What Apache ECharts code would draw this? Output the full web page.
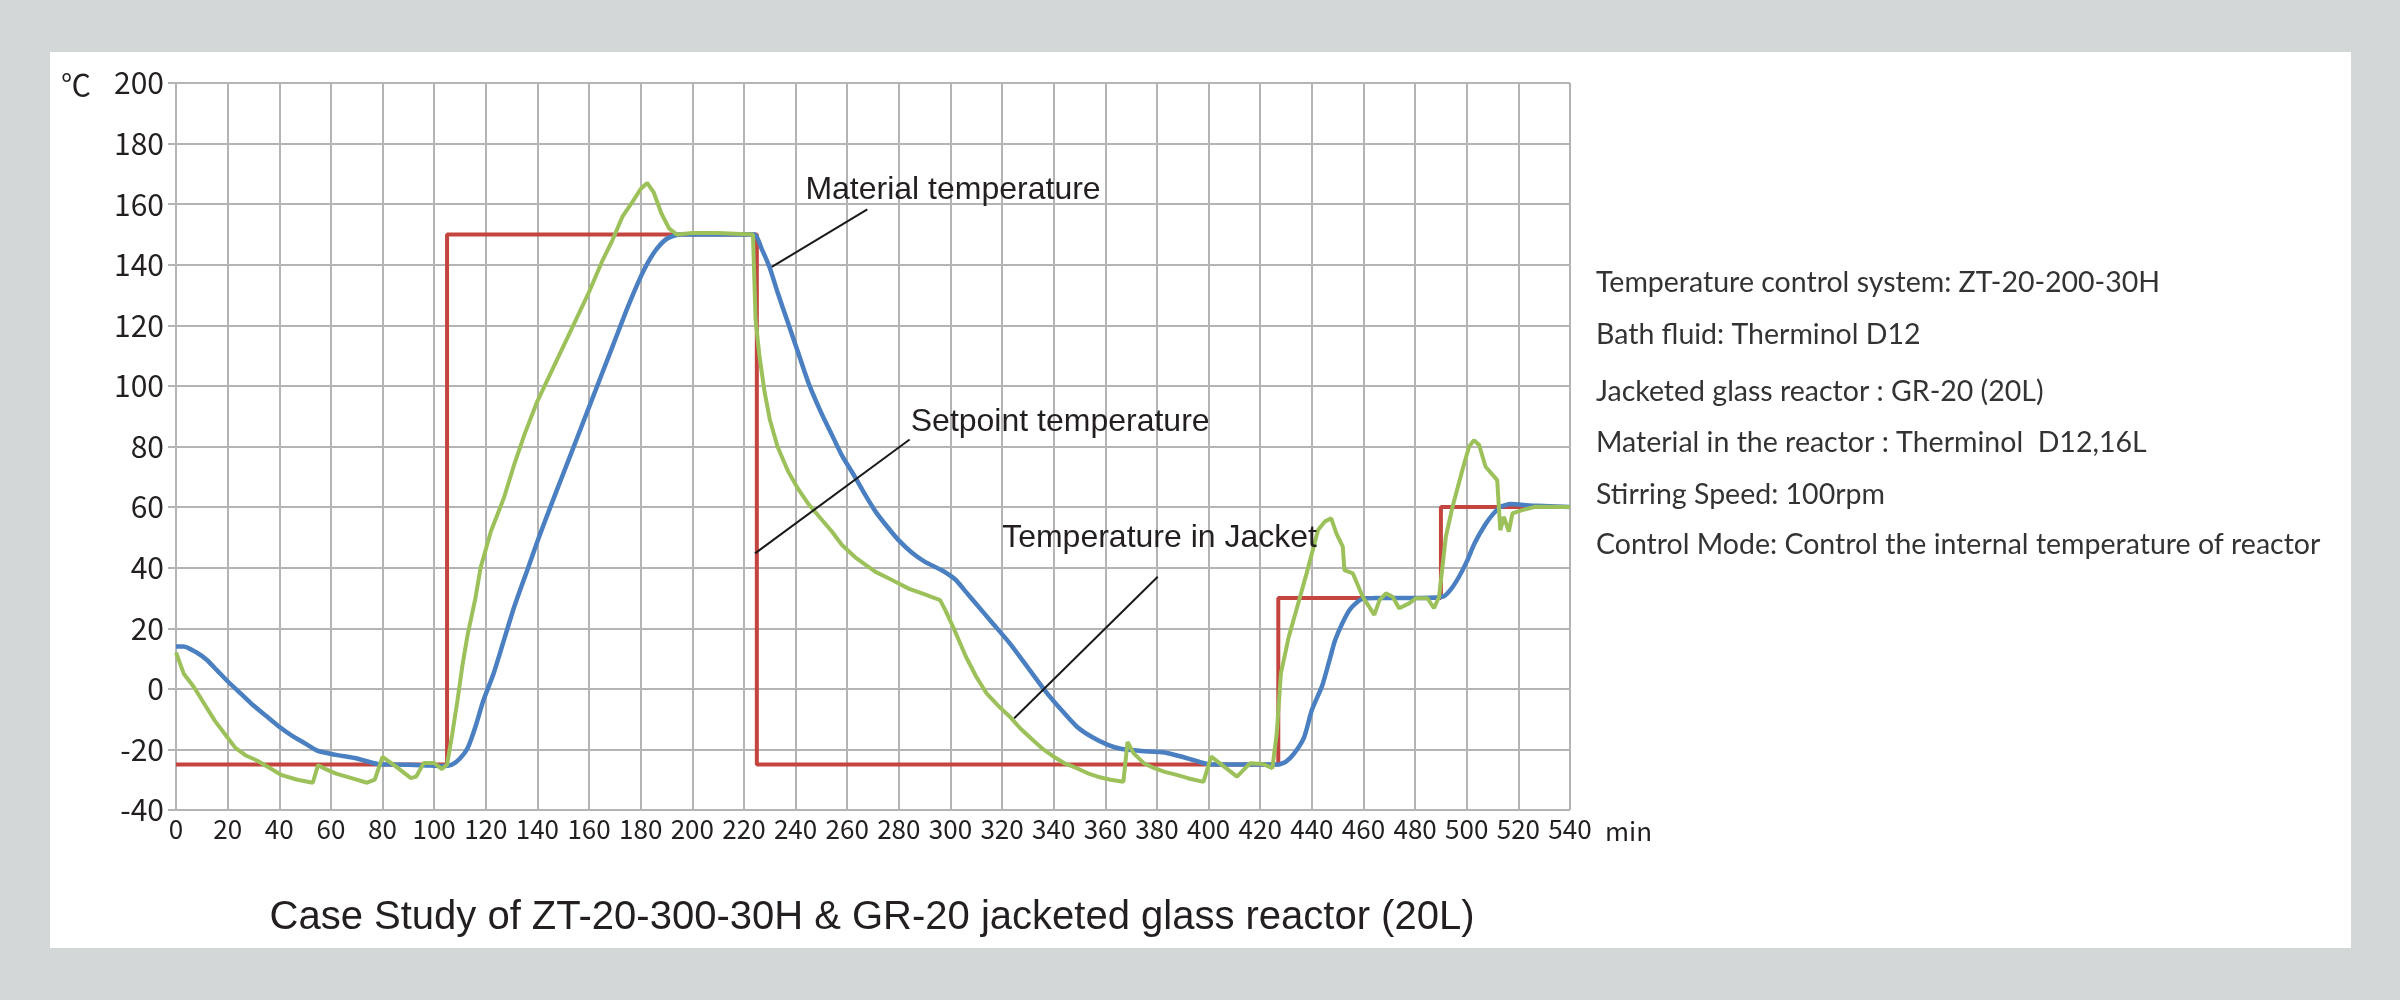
<!DOCTYPE html>
<html>
<head>
<meta charset="utf-8">
<title>Case Study of ZT-20-300-30H & GR-20 jacketed glass reactor (20L)</title>
<script src="https://cdn.jsdelivr.net/npm/echarts@6/dist/echarts.min.js"></script>
<style>
  html, body { margin: 0; padding: 0; background: #d3d7d8; }
  #chart { width: 2400px; height: 1000px; }
</style>
</head>
<body>
<div id="chart"></div>
<script>
// time in minutes, temperature in °C
const setpoint = [
  [0, -25], [105, -25], [105, 150], [225, 150], [225, -25],
  [427, -25], [427, 30], [490, 30], [490, 60], [540, 60]
];

const material = [
  [0, 14], [3, 14], [8, 12], [12, 9.5], [16, 6], [20, 2.5], [25, -1.5], [30, -5.5],
  [35, -9], [40, -12.5], [45, -15.5], [50, -18], [55, -20.5], [62, -21.8], [70, -23],
  [78, -24.8], [85, -25], [95, -25.2], [104, -25.5], [107, -25], [110, -23], [113, -19.5],
  [116, -12.5], [119, -4], [123, 5], [127, 16], [131, 27], [136, 39], [141, 51], [145, 60],
  [150, 71], [155, 82], [160, 93], [165, 104], [170, 115], [175, 126], [180, 136],
  [183, 141], [186, 145], [190, 148.5], [195, 150], [210, 150], [224, 150], [227, 145],
  [230, 139], [233, 131], [237, 121], [241, 111], [245, 101], [250, 91], [254, 84],
  [258, 77], [263, 70], [267, 64], [271, 58.5], [276, 53], [280, 49], [285, 45], [290, 42],
  [297, 39], [302, 36], [306, 32], [310, 28], [316, 22], [323, 15], [330, 7], [337, -1],
  [343, -7], [349, -12.5], [355, -16], [361, -18.5], [366, -19.8], [374, -20.5], [383, -21],
  [390, -22.5], [396, -24], [401, -25], [410, -25], [427, -25], [430, -24], [433, -21.5],
  [437, -16], [440, -7], [444, 1], [447, 10], [449, 16], [452, 22], [455, 26.5],
  [459, 29.5], [465, 30], [480, 30], [491, 30.5], [494, 33], [497, 37], [500, 42],
  [503, 48], [507, 54], [510, 57.5], [513, 60], [517, 61], [525, 60.5], [540, 60]
];

const jacket = [
  [0, 12], [3, 5], [7, 0.5], [11, -5], [15, -10.5], [19, -15], [23, -19.5], [27, -22],
  [31, -23.5], [36, -26], [41, -28.5], [47, -30], [53, -31], [55, -25.2], [58, -26.5],
  [62, -28], [68, -29.5], [74, -31], [77, -30], [80, -22.5], [85, -25.5], [91, -29.5],
  [93, -29], [96, -24.5], [100, -24.5], [103, -26.5], [105, -25], [107, -15], [109, -4],
  [111, 8], [113, 18], [116, 30], [118, 40], [122, 52], [127, 63], [131, 74], [135, 84],
  [140, 95], [145, 104], [150, 113], [155, 122], [160, 131], [165, 141], [169, 148],
  [173, 156], [177, 161], [180, 165], [182.5, 167], [185, 164], [188, 157], [191, 152],
  [194, 150], [200, 150.5], [210, 150.5], [223.5, 150], [224.5, 122], [226, 110],
  [228, 98], [230, 89], [233, 80], [237, 72], [241, 66], [245, 61], [250, 56], [254, 52],
  [258, 47.5], [263, 43.5], [267, 41], [271, 38.6], [276, 36.5], [280, 34.8], [284, 33],
  [289, 31.5], [296, 29.3], [298, 26], [301, 20.5], [306, 10.6], [310, 4], [314, -1.5],
  [319, -6], [323, -9.2], [327, -13], [332, -17], [336, -20], [340, -22.4], [344, -24.5],
  [349, -26.2], [353, -27.8], [357, -29], [362, -30], [367, -30.7], [368.6, -17.5],
  [371, -21.3], [375, -24.6], [379, -26.2], [383, -27.4], [388, -28.5], [392, -29.5],
  [398, -30.7], [401, -22.4], [406, -25.7], [411, -29], [416, -24.6], [421, -24.8],
  [424.7, -26.2], [426.4, -14.7], [428, 5], [431, 17], [434, 26], [438, 38.2],
  [442.4, 52.4], [445, 55.2], [447.5, 56.3], [449.5, 51.3], [452, 46.9], [452.6, 39.2],
  [455.9, 38.1], [459.7, 30.4], [464.2, 24.4], [466.2, 29.3], [468.7, 31.5], [471.3, 30.4],
  [473.8, 26.6], [477.7, 28.2], [480.3, 29.9], [484.8, 29.9], [487.3, 26.6], [489.3, 30.4],
  [491.9, 50.2], [494.5, 60.1], [498.3, 72.2], [500.9, 79.9], [502.8, 82.1], [504.8, 80.5],
  [507.3, 73.3], [511.8, 68.9], [513, 52.4], [514.4, 56.8], [516.3, 51.9], [517.7, 57.9],
  [521.5, 59], [526.6, 60.1], [540, 60]
];

// callout labels: text anchor and leader line ends, in data units
const calloutNames = ['Material temperature', 'Setpoint temperature', 'Temperature in Jacket'];
const calloutText = [[301, 164.6], [342.5, 88.1], [381, 49.7]];
const calloutFrom = [[267.8, 158.3], [284.2, 82.3], [380.3, 37]];
const calloutTo = [[230.8, 139.3], [224.3, 44.7], [324.7, -9.7]];

const infoLines = [
  'Temperature control system: ZT-20-200-30H',
  'Bath fluid: Therminol D12',
  'Jacketed glass reactor : GR-20 (20L)',
  'Material in the reactor : Therminol  D12,16L',
  'Stirring Speed: 100rpm',
  'Control Mode: Control the internal temperature of reactor'
];
const infoLineY = [283, 335, 392, 443, 495, 545];

const chartTitle = 'Case Study of ZT-20-300-30H & GR-20 jacketed glass reactor (20L)';

const chart = echarts.init(document.getElementById('chart'), null, { renderer: 'canvas' });

const gridColor = '#b4b4b4';
const textColor = '#231f20';
const tickFont = "'Noto Sans CJK SC', 'Noto Sans', sans-serif";

const option = {
  backgroundColor: '#d3d7d8',
  animation: false,
  graphic: [
    {
      type: 'rect',
      z: -10,
      shape: { x: 50, y: 52, width: 2301, height: 896 },
      style: { fill: '#ffffff' },
      silent: true
    },
    {
      type: 'text',
      x: 76,
      y: 85,
      style: {
        text: '℃', font: "30px 'Noto Sans CJK SC'", fill: textColor,
        align: 'center', verticalAlign: 'middle'
      }
    },
    {
      type: 'text',
      x: 1605,
      y: 831,
      style: {
        text: 'min', font: "26px 'Noto Sans CJK SC'", fill: textColor,
        align: 'left', verticalAlign: 'middle'
      }
    },
    {
      type: 'text',
      x: 872,
      y: 918,
      style: {
        text: chartTitle,
        font: "40px 'Liberation Sans', Arial, sans-serif",
        fill: textColor,
        align: 'center',
        verticalAlign: 'middle'
      }
    },
    ...infoLines.map((t, i) => ({
      type: 'text',
      x: 1596,
      y: infoLineY[i],
      style: {
        text: t, font: "28.5px Lato, 'Open Sans', sans-serif", fill: '#333333',
        align: 'left', verticalAlign: 'middle'
      }
    }))
  ],
  grid: { left: 176, right: 830, top: 83, bottom: 190 },
  xAxis: {
    type: 'value',
    min: 0,
    max: 540,
    interval: 20,
    axisLine: { show: true, lineStyle: { color: gridColor, width: 2 } },
    axisTick: { show: false },
    axisLabel: { fontFamily: tickFont, fontSize: 26, color: textColor, margin: 6 },
    splitLine: { show: true, lineStyle: { color: gridColor, width: 2 } }
  },
  yAxis: {
    type: 'value',
    min: -40,
    max: 200,
    interval: 20,
    axisLine: { show: true, lineStyle: { color: gridColor, width: 2 } },
    axisTick: { show: true, length: 8, lineStyle: { color: gridColor, width: 2 } },
    axisLabel: { fontFamily: tickFont, fontSize: 30, color: textColor, margin: 12 },
    splitLine: { show: true, lineStyle: { color: gridColor, width: 2 } }
  },
  series: [
    {
      name: 'Setpoint temperature',
      type: 'line',
      data: setpoint,
      showSymbol: false,
      lineStyle: { color: '#c4453f', width: 4 },
      z: 2,
      markLine: {
        silent: true,
        symbol: 'none',
        label: { show: false },
        lineStyle: { color: '#1a1a1a', width: 2, type: 'solid' },
        data: calloutFrom.map((p, i) => [{ coord: p }, { coord: calloutTo[i] }])
      },
      markPoint: {
        silent: true,
        symbol: 'circle',
        symbolSize: 0,
        label: {
          show: true,
          position: 'inside',
          fontFamily: "'Liberation Sans', Arial, sans-serif",
          fontSize: 32,
          color: textColor,
          formatter: (p) => p.name
        },
        data: calloutText.map((p, i) => ({ name: calloutNames[i], coord: p }))
      }
    },
    {
      name: 'Material temperature',
      type: 'line',
      data: material,
      showSymbol: false,
      smooth: 0.2,
      lineStyle: { color: '#4a7fc1', width: 4.5 },
      z: 3
    },
    {
      name: 'Temperature in Jacket',
      type: 'line',
      data: jacket,
      showSymbol: false,
      lineStyle: { color: '#9cc15a', width: 4 },
      z: 4
    }
  ]
};

chart.setOption(option);
</script>
</body>
</html>
